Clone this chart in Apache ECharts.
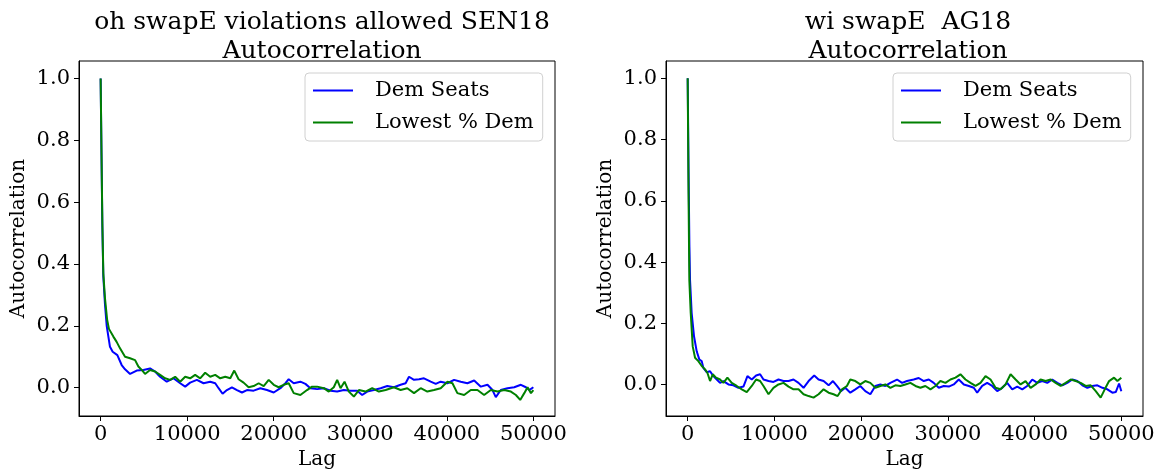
<!DOCTYPE html>
<html>
<head>
<meta charset="utf-8">
<script src="https://cdn.jsdelivr.net/npm/echarts@6/dist/echarts.min.js"></script>
<style>
html,body{margin:0;padding:0;background:#fff;}
#chart{width:1158px;height:473px;}
</style>
</head>
<body>
<div id="chart"></div>
<script>
// ---------- DATA ----------
const panelTitles = ["oh swapE violations allowed SEN18\nAutocorrelation", "wi swapE  AG18\nAutocorrelation"];
const seriesNames = ["Dem Seats", "Lowest % Dem"];
const xTicks = [0, 10000, 20000, 30000, 40000, 50000];
const yTicks = [0.0, 0.2, 0.4, 0.6, 0.8, 1.0];

// Left panel: oh SEN18
const ohDemSeatsLag = [0,100,200,310,500,700,1080,1390,1930,2430,2820,3400,4170,4940,5710,6290,6870,7640,8410,9190,9770,10340,11120,11890,12660,13240,13630,14090,14590,15170,15750,16330,16910,17680,18450,19220,20000,20770,21350,21730,22310,23080,23660,24240,25010,25790,26560,27330,28100,28870,29640,30220,30800,31570,32350,33120,33890,34660,35240,35630,36210,36790,37360,38140,38720,39290,40070,40840,41610,42380,43160,43930,44700,45280,45660,46240,47010,47790,48560,49140,49520,50000];
const ohDemSeatsVal = [1.0,0.75,0.52,0.36,0.27,0.2,0.132,0.116,0.105,0.073,0.059,0.044,0.055,0.057,0.062,0.052,0.035,0.019,0.030,0.014,0.003,0.016,0.025,0.014,0.019,0.014,-0.002,-0.020,-0.008,0.001,-0.008,-0.016,-0.008,-0.010,-0.002,-0.008,-0.016,-0.002,0.014,0.027,0.014,0.019,0.012,-0.002,-0.005,-0.002,-0.010,-0.013,-0.008,-0.010,-0.010,-0.024,-0.013,-0.008,-0.002,0.005,0.001,0.009,0.014,0.035,0.025,0.027,0.030,0.019,0.012,0.019,0.014,0.025,0.019,0.014,0.023,0.003,0.009,-0.008,-0.031,-0.008,-0.002,0.001,0.009,0.001,-0.008,0.001];

const ohLowestLag = [0,100,200,310,500,750,960,1470,1850,2240,2820,3400,3980,4360,4750,5130,5710,6290,6870,7450,8030,8610,9190,9770,10340,10920,11500,12080,12660,13240,13820,14400,14980,15440,15940,16520,17100,17680,18260,18840,19420,20000,20570,21150,21730,22310,23080,23850,24430,25010,25790,26360,26940,27330,27720,28180,28680,29260,29840,30610,31380,32150,32930,33890,34660,35430,36210,36980,37750,38520,39290,40070,40650,41220,42000,42770,43540,44310,45080,45860,46630,47400,47980,48480,48950,49330,49720,50000];
const ohLowestVal = [1.0,0.76,0.53,0.37,0.29,0.22,0.19,0.165,0.148,0.127,0.100,0.095,0.089,0.068,0.057,0.044,0.057,0.052,0.041,0.030,0.025,0.035,0.019,0.035,0.030,0.041,0.030,0.048,0.035,0.041,0.030,0.035,0.030,0.055,0.027,0.016,0.001,0.005,0.014,0.005,0.025,0.009,0.001,0.009,0.014,-0.018,-0.024,-0.008,0.003,0.003,-0.002,-0.013,0.001,0.025,-0.002,0.019,-0.013,-0.029,-0.008,-0.013,-0.002,-0.013,-0.008,0.001,-0.008,-0.002,-0.018,-0.002,-0.013,-0.008,-0.002,0.019,0.014,-0.018,-0.024,-0.008,-0.008,-0.024,-0.008,-0.013,-0.008,-0.013,-0.024,-0.040,-0.018,0.001,-0.018,-0.008];

// Right panel: wi AG18
const wiDemSeatsLag = [0,100,200,270,460,730,1040,1350,1620,1810,2190,2580,2960,3350,3730,4120,4700,5270,5850,6430,6890,7390,7890,8350,8740,9320,9890,10470,11050,11630,12200,12780,13360,13940,14590,15090,15670,16250,16750,17210,17670,18170,18750,19330,19900,20480,21060,21640,22210,22790,23370,24140,24720,25290,26060,26640,27220,27800,28370,28950,29530,30110,30680,31260,31840,32420,32990,33380,33960,34530,35110,35690,36270,36840,37420,38000,38580,39150,39730,40310,40890,41460,42040,42620,43200,43770,44350,44930,45510,46080,46660,47240,47820,48390,48970,49360,49740,50000];
const wiDemSeatsVal = [1.0,0.7,0.45,0.342,0.234,0.158,0.109,0.082,0.077,0.055,0.041,0.044,0.028,0.017,0.006,0.012,0.001,-0.002,-0.010,-0.006,0.028,0.017,0.030,0.034,0.017,0.012,0.009,0.017,0.012,0.012,0.017,0.006,-0.010,0.012,0.030,0.017,0.012,-0.002,0.012,-0.004,-0.021,-0.010,-0.026,-0.015,-0.004,-0.021,-0.031,-0.004,0.001,-0.004,0.006,0.017,0.006,0.012,0.017,0.022,0.012,0.017,0.006,-0.010,-0.004,-0.006,0.001,0.017,0.001,-0.004,-0.010,-0.026,-0.004,0.006,-0.004,-0.021,-0.010,0.006,-0.015,-0.006,-0.015,-0.004,0.017,0.006,0.012,0.006,0.017,0.006,-0.002,0.006,0.017,0.012,-0.002,-0.010,-0.004,-0.002,-0.010,-0.015,-0.026,-0.024,0.004,-0.021];

const wiLowestLag = [0,100,190,350,580,850,1230,1620,2000,2270,2580,2890,3270,3730,4120,4580,5080,5660,6240,6810,7390,7890,8350,8740,9320,9890,10470,11050,11630,12200,12780,13360,13940,14510,15090,15670,16250,16820,17290,17790,18360,18750,19330,19900,20480,21060,21640,22210,22790,23370,23950,24520,25100,25680,26260,26830,27410,27990,28570,29140,29720,30300,30880,31450,32030,32610,33190,33760,34340,34920,35500,36070,36650,37230,37810,38380,38960,39540,40120,40690,41270,41850,42430,43000,43580,44160,44740,45310,45890,46470,47050,47620,48090,48590,49160,49550,50000];
const wiLowestVal = [1.0,0.62,0.342,0.234,0.125,0.088,0.077,0.061,0.050,0.039,0.012,0.034,0.023,0.017,0.006,0.023,0.006,-0.004,-0.015,-0.024,-0.004,0.017,0.012,-0.004,-0.031,-0.010,0.001,0.006,-0.006,-0.015,-0.015,-0.031,-0.037,-0.042,-0.031,-0.015,-0.026,-0.031,-0.037,-0.015,-0.004,0.017,0.012,0.001,0.012,0.006,-0.010,-0.004,0.001,-0.010,-0.002,-0.004,0.001,0.006,-0.004,-0.010,-0.004,-0.015,-0.004,0.012,0.006,0.017,0.023,0.034,0.017,0.006,-0.004,0.006,0.028,0.017,-0.010,-0.015,0.001,0.034,0.017,0.001,0.012,-0.010,0.001,0.017,0.012,0.017,0.006,-0.004,0.006,0.017,0.012,0.006,-0.004,-0.002,-0.021,-0.042,-0.015,0.012,0.023,0.012,0.023];

// ---------- CHART ----------
const FONT = 'DejaVu Serif';
const pair = (lags, vals) => lags.map((l, i) => [l, vals[i]]);
const chart = echarts.init(document.getElementById('chart'), null, {renderer: 'canvas'});

const grids = [
  {left: 79, top: 61, width: 476, height: 355},
  {left: 666, top: 61, width: 477, height: 355}
];
const yRanges = [[-0.092, 1.057], [-0.102, 1.056]];
const titleCenters = [317, 903];
const legendLefts = [305, 893];

function xAxisFor(i) {
  return {
    type: 'value', gridIndex: i, min: -2500, max: 52500,
    name: 'Lag', nameLocation: 'middle', nameGap: 34,
    nameTextStyle: {fontFamily: FONT, fontSize: 20, color: '#000'},
    axisLine: {show: true, onZero: false, lineStyle: {color: '#000', width: 1}},
    axisTick: {show: true, customValues: xTicks, length: 5, inside: false, lineStyle: {color: '#000'}},
    axisLabel: {customValues: xTicks, fontFamily: FONT, fontSize: 21, color: '#000', margin: 8,
      formatter: v => String(v)},
    splitLine: {show: false}
  };
}
function yAxisFor(i) {
  return {
    type: 'value', gridIndex: i, min: yRanges[i][0], max: yRanges[i][1],
    name: 'Autocorrelation', nameLocation: 'middle', nameGap: 50, nameRotate: 90,
    nameTextStyle: {fontFamily: FONT, fontSize: 20, color: '#000'},
    axisLine: {show: true, onZero: false, lineStyle: {color: '#000', width: 1}},
    axisTick: {show: true, customValues: yTicks, length: 5, lineStyle: {color: '#000'}},
    axisLabel: {customValues: yTicks, fontFamily: FONT, fontSize: 21, color: '#000', margin: 9,
      formatter: v => v.toFixed(1)},
    splitLine: {show: false}
  };
}
function legendFor(i) {
  return {
    left: legendLefts[i], top: 73, orient: 'vertical',
    data: seriesNames,
    icon: 'rect',
    backgroundColor: '#fff', borderColor: '#d0d0d0', borderWidth: 1, borderRadius: 4,
    padding: [7, 9, 8, 8], itemGap: 11, itemWidth: 40, itemHeight: 2,
    textStyle: {fontFamily: FONT, fontSize: 21, color: '#000', padding: [0, 0, 0, 17], lineHeight: 21},
    selectedMode: false
  };
}
function lineSeries(name, data, color, i) {
  return {
    name, type: 'line', xAxisIndex: i, yAxisIndex: i, data,
    showSymbol: false, symbol: 'none', animation: false,
    lineStyle: {color, width: 2}, itemStyle: {color}
  };
}

chart.setOption({
  backgroundColor: '#fff',
  animation: false,
  title: panelTitles.map((t, i) => ({
    text: t, left: titleCenters[i], top: 3, textAlign: 'center',
    textStyle: {fontFamily: FONT, fontSize: 25, fontWeight: 'normal', color: '#000', lineHeight: 29}
  })),
  grid: grids.map(g => Object.assign({show: true, borderColor: '#000', borderWidth: 1,
    backgroundColor: 'transparent', containLabel: false, outerBoundsMode: 'none'}, g)),
  legend: [legendFor(0), legendFor(1)],
  xAxis: [xAxisFor(0), xAxisFor(1)],
  yAxis: [yAxisFor(0), yAxisFor(1)],
  series: [
    lineSeries(seriesNames[0], pair(ohDemSeatsLag, ohDemSeatsVal), '#0000ff', 0),
    lineSeries(seriesNames[1], pair(ohLowestLag, ohLowestVal), '#008000', 0),
    lineSeries(seriesNames[0], pair(wiDemSeatsLag, wiDemSeatsVal), '#0000ff', 1),
    lineSeries(seriesNames[1], pair(wiLowestLag, wiLowestVal), '#008000', 1)
  ]
});
</script>
</body>
</html>
